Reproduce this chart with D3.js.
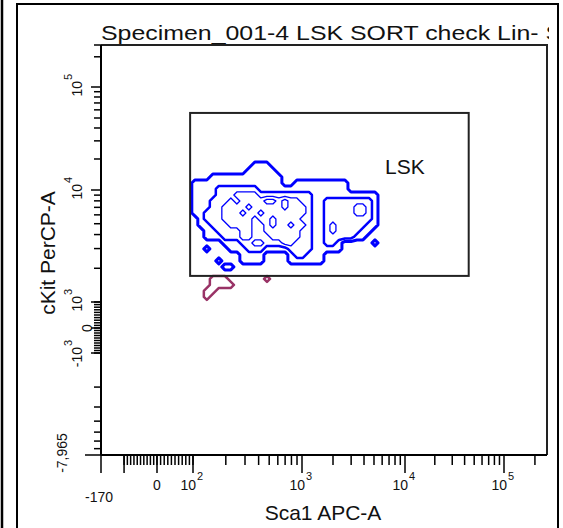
<!DOCTYPE html>
<html>
<head>
<meta charset="utf-8">
<title>LSK sort check - Sca1 vs cKit</title>
<script src="https://cdn.jsdelivr.net/npm/d3@7"></script>
<style>
body { margin: 0; background: #fff; }
svg text { font-family: Arial, "Liberation Sans", sans-serif; fill: #111; }
</style>
</head>
<body>
<svg id="chart" width="563" height="528"></svg>
<script>
// ---- data ----
var titleText = "Specimen_001-4 LSK SORT check Lin- Sca1+ cKit+";
var xLabel = "Sca1 APC-A", yLabel = "cKit PerCP-A";
var xRange = [-170, 262143], yRange = [-7965, 262143];

// labelled ticks: value, base text, exponent
var xTickVals = [-170, 0, 100, 1000, 10000, 100000];
var xTickBase = ["-170", "0", "10", "10", "10", "10"];
var xTickExp  = ["", "", "2", "3", "4", "5"];
var yTickVals = [-7965, -1000, 0, 1000, 10000, 100000];
var yTickBase = ["-7,965", "-10", "0", "10", "10", "10"];
var yTickExp  = ["", "3", "", "3", "4", "5"];

// LSK gate (Sca1 low/high, cKit low/high)
var gateX = [92, 44000], gateY = [1710, 56000];
var gateName = "LSK", gateLabelAt = [6400, 14300];

// contour density levels on a grid (0 = none), blue = LSK events
var blueExtentX = [80, 6250], blueExtentY = [1710, 21400];
var blueGrid = [
  "000000000000000000000000000000000",
  "000000000001110000000000000000000",
  "000000000011111000000000000000000",
  "000011111111111100000000000000000",
  "011111111111111100111111111000000",
  "011112222222111111111111111000000",
  "011112223333222222222111111111110",
  "011122232333344343322112222222210",
  "011122333343333343332112222233210",
  "011222333233433333332112222233210",
  "001222333332334333322112222222210",
  "001122233332234334332112322222110",
  "000112222332233333322112322221100",
  "000111222332223333322112222211000",
  "000000111223322233222112210000010",
  "000100011122211112222111110000000",
  "000000000111100001221110000000000",
  "000001000111100001111110000000000",
  "000000110000000000000000000000000",
  "000000000000000000000000000000000"
];
// events just below the gate (purple)
var purpleExtentX = [80, 656], purpleExtentY = [850, 1930];
var purpleGrid = [
  "0000000000000000",
  "0000111000000100",
  "0000111100000000",
  "0001100000000000",
  "0001000000000000",
  "0000000000000000"
];

// ---- scales (biexponential display: linear near zero, log above) ----
var xLin = d3.scaleLinear().domain([-170, 0, 100]).range([101, 157, 193]);
var xLog = d3.scaleLog().domain([100, 1000, 10000, 100000, 262143]).range([193, 302, 405, 504, 547]);
function X(v) { return v >= 100 ? xLog(v) : xLin(v); }
var yLin = d3.scaleLinear().domain([-1000, 0, 1000]).range([353, 328, 302]);
var yPos = d3.scaleLog().domain([1000, 10000, 100000, 262143]).range([302, 190, 87, 45]);
var yNeg = d3.scaleLog().domain([-1000, -7965]).range([353, 455]);
function Y(v) { return v >= 1000 ? yPos(v) : (v <= -1000 ? yNeg(v) : yLin(v)); }

var svg = d3.select("#chart");
var pL = X(xRange[0]), pR = X(xRange[1]), pT = Y(yRange[1]), pB = Y(yRange[0]);

// outer frame
svg.append("line").attr("x1", 2).attr("x2", 2).attr("y1", 0).attr("y2", 528)
  .attr("stroke", "#000").attr("stroke-width", 2.5);
svg.append("rect").attr("x", 17).attr("y", 4).attr("width", 541).attr("height", 540)
  .attr("fill", "none").attr("stroke", "#000").attr("stroke-width", 2);

// title, clipped at the plot edge
svg.append("clipPath").attr("id", "tclip").append("rect")
  .attr("x", 0).attr("y", 0).attr("width", pR + 2).attr("height", pT + 2);
var title = svg.append("g").attr("clip-path", "url(#tclip)")
  .append("text").attr("font-size", 21).text(titleText);
var tw = title.node().getSubStringLength(0, 34);
title.attr("transform", "translate(101,39.5) scale(" + (438 / tw) + ",1)");

// plot frame
svg.append("path")
  .attr("d", "M" + pL + "," + pT + "H" + pR + "V" + pB)
  .attr("fill", "none").attr("stroke", "#222").attr("stroke-width", 2);

// ---- x axis ----
var xMinor = d3.range(-100, 101, 10)
  .concat([100, 1000, 10000].flatMap(function(d) { return d3.range(2, 10).map(function(k) { return k * d; }); }))
  .concat([200000]);
var gx = svg.append("g").attr("stroke", "#000").attr("stroke-width", 1.5);
gx.append("line").attr("x1", pL).attr("x2", pR).attr("y1", pB).attr("y2", pB).attr("stroke-width", 2);
gx.selectAll(".mn").data(xMinor).join("line").attr("class", "mn")
  .attr("x1", X).attr("x2", X).attr("y1", pB).attr("y2", pB + 10);
gx.selectAll(".mj").data(xTickVals.concat([-100])).join("line").attr("class", "mj")
  .attr("x1", X).attr("x2", X).attr("y1", pB).attr("y2", pB + 18);

var xl = svg.append("g").attr("font-size", 14);
xTickVals.forEach(function(v, i) {
  var px = X(v);
  if (xTickExp[i]) {
    xl.append("text").attr("x", px + 3).attr("y", 490).attr("text-anchor", "end").text(xTickBase[i]);
    xl.append("text").attr("x", px + 4).attr("y", 480).attr("font-size", 11).text(xTickExp[i]);
  } else {
    xl.append("text").attr("x", px - (v < 0 ? 2 : 0)).attr("y", v < 0 ? 502 : 490)
      .attr("text-anchor", "middle").text(xTickBase[i]);
  }
});
svg.append("text").attr("x", 323).attr("y", 520).attr("text-anchor", "middle")
  .attr("font-size", 21).text(xLabel);

// ---- y axis ----
var yMinor = d3.range(-1000, 1001, 100)
  .concat([1000, 10000].flatMap(function(d) { return d3.range(2, 10).map(function(k) { return k * d; }); }))
  .concat(d3.range(2, 8).map(function(k) { return -k * 1000; }))
  .concat([200000, 262143]);
var gy = svg.append("g").attr("stroke", "#000").attr("stroke-width", 1.5);
gy.append("line").attr("x1", pL).attr("x2", pL).attr("y1", pT).attr("y2", pB).attr("stroke-width", 2);
gy.selectAll(".mn").data(yMinor).join("line").attr("class", "mn")
  .attr("y1", Y).attr("y2", Y).attr("x1", pL).attr("x2", pL - 7);
gy.selectAll(".mj").data(yTickVals).join("line").attr("class", "mj")
  .attr("y1", Y).attr("y2", Y).attr("x1", pL)
  .attr("x2", function(d) { return d === yRange[0] ? pL - 16 : pL - 10; });

var yl = svg.append("g").attr("font-size", 14);
yTickVals.forEach(function(v, i) {
  var py = Y(v);
  if (yTickExp[i]) {
    var g = yl.append("g").attr("transform", "translate(82," + py + ") rotate(-90)");
    g.append("text").attr("x", 6).attr("y", 0).attr("text-anchor", "end").text(yTickBase[i]);
    g.append("text").attr("x", 7).attr("y", -10).attr("font-size", 11).text(yTickExp[i]);
  } else {
    var bx = v === 0 ? 92 : 67;
    yl.append("text").attr("transform", "translate(" + bx + "," + (py - (v < 0 ? 2 : 0)) + ") rotate(-90)")
      .attr("text-anchor", "middle").text(yTickBase[i]);
  }
});
svg.append("text").attr("transform", "translate(55,253) rotate(-90)")
  .attr("text-anchor", "middle").attr("font-size", 21).text(yLabel);

// ---- contours ----
function drawContours(rows, ex, ey, color, thresholds, widths) {
  var n = rows[0].length, m = rows.length;
  var values = [];
  rows.forEach(function(r) { for (var k = 0; k < r.length; k++) values.push(+r[k]); });
  var sx = d3.scaleLinear().domain([0, n]).range([X(ex[0]), X(ex[1])]);
  var sy = d3.scaleLinear().domain([0, m]).range([Y(ey[1]), Y(ey[0])]);
  var path = d3.geoPath(d3.geoTransform({
    point: function(px, py) { this.stream.point(sx(px), sy(py)); }
  }));
  var sets = d3.contours().size([n, m]).thresholds(thresholds)(values);
  svg.append("g").selectAll("path").data(sets).join("path")
    .attr("d", path).attr("fill", "none").attr("stroke", color)
    .attr("stroke-linejoin", "round")
    .attr("stroke-width", function(d, i) { return widths[i]; });
}
drawContours(blueGrid, blueExtentX, blueExtentY, "#0000ff", [0.5, 1.5, 2.5, 3.5], [3, 2.5, 1.3, 1.3]);
drawContours(purpleGrid, purpleExtentX, purpleExtentY, "#993366", [0.5], [2.5]);

// ---- gate ----
svg.append("rect")
  .attr("x", X(gateX[0])).attr("y", Y(gateY[1]))
  .attr("width", X(gateX[1]) - X(gateX[0])).attr("height", Y(gateY[0]) - Y(gateY[1]))
  .attr("fill", "none").attr("stroke", "#222").attr("stroke-width", 2);
svg.append("text").attr("x", X(gateLabelAt[0])).attr("y", Y(gateLabelAt[1]))
  .attr("font-size", 21).text(gateName);
</script>
</body>
</html>
